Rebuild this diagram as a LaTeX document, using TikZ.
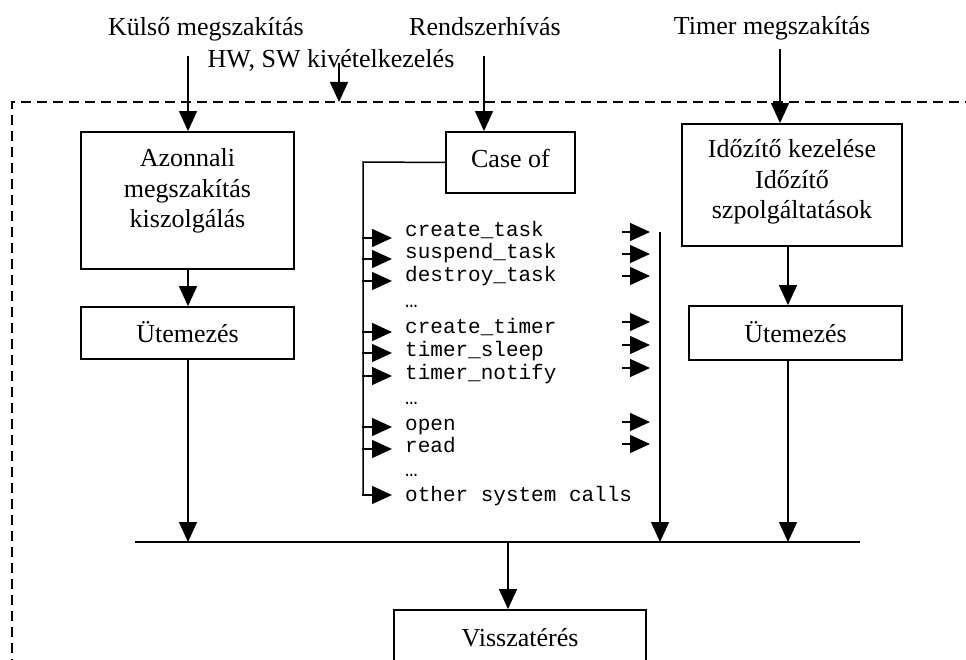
\documentclass[tikz,border=0pt]{standalone}
\usepackage{fontspec}
\setmainfont{Liberation Serif}
\setmonofont{Liberation Mono}
\usetikzlibrary{arrows.meta}

\begin{document}
\begin{tikzpicture}[x=1pt, y=-1pt,
  every node/.style={font=\fontsize{26}{30.5}\selectfont, inner sep=0pt},
  box/.style={draw, line width=1.8pt, inner sep=0pt},
  lbl/.style={anchor=base},
  item/.style={anchor=base west, font=\ttfamily\fontsize{21}{24}\selectfont},
  conn/.style={line width=1.5pt},
  arr/.style={conn, -{Triangle[length=20pt, width=18pt]}},
  frame/.style={line width=2pt, dash pattern=on 10pt off 6pt}]

\clip (0,0) rectangle (966,660);

% incoming events
\node[lbl] (kulso)  at (206,36) {Külső megszakítás};
\node[lbl] (hwsw)   at (331,68) {HW, SW kivételkezelés};
\node[lbl] (rendsz) at (485,36) {Rendszerhívás};
\node[lbl] (timer)  at (772,35) {Timer megszakítás};

% kernel boundary
\coordinate (frTL) at (12,102);
\coordinate (frTR) at (975,102);
\coordinate (frBL) at (12,675);
\draw[frame] (frTR) -- (frTL) -- (frBL);

% left column: interrupt handling (multi-line labels sit on their last baseline)
\node[box, minimum width=213pt, minimum height=137pt] (az) at (187.5,200.5) {};
\node[lbl, align=center] (aztext) at (187.5,228) {Azonnali\\megszakítás\\kiszolgálás};
\node[box, minimum width=213pt, minimum height=52pt] (ut1) at (187.5,333) {};
\node[lbl] (ut1text) at (187.5,342) {Ütemezés};

% middle column: system call dispatch
\node[box, minimum width=129pt, minimum height=61pt] (case) at (510.5,162.5) {};
\node[lbl] (casetext) at (510.5,168) {Case of};

% right column: timer handling
\node[box, minimum width=220pt, minimum height=122pt] (ido) at (792,185) {};
\node[lbl, align=center] (idotext) at (792,219) {Időzítő kezelése\\Időzítő\\szpolgáltatások};
\node[box, minimum width=213pt, minimum height=54pt] (ut2) at (795.5,333) {};
\node[lbl] (ut2text) at (795.5,342) {Ütemezés};

% return
\node[box, minimum width=252pt, minimum height=70pt] (vissza) at (520,645) {};
\node[lbl] (visszatext) at (520,646) {Visszatérés};

% system call list
\node[item] (i1)  at (405,237) {create\_task};
\node[item] (i2)  at (405,259) {suspend\_task};
\node[item] (i3)  at (405,282) {destroy\_task};
\node[item] (e1)  at (405,307) {…};
\node[item] (i4)  at (405,333) {create\_timer};
\node[item] (i5)  at (405,356) {timer\_sleep};
\node[item] (i6)  at (405,379) {timer\_notify};
\node[item] (e2)  at (405,404) {…};
\node[item] (i7)  at (405,430) {open};
\node[item] (i8)  at (405,452) {read};
\node[item] (e3)  at (405,476) {…};
\node[item] (i9)  at (405,501) {other system calls};

% bus collecting all paths
\coordinate (busL) at (135,542);
\coordinate (busR) at (860,542);
\draw[line width=2pt] (busL) -- (busR);

% incoming arrows
\coordinate (kulsoIn) at (188,56);
\coordinate (hwIn) at (339,63);
\coordinate (rendIn) at (484,56);
\coordinate (timerIn) at (780,49);
\draw[arr] (kulsoIn) -- (kulsoIn |- az.north);
\draw[arr] (hwIn) -- (hwIn |- frTL);
\draw[arr] (rendIn) -- (rendIn |- case.north);
\draw[arr] (timerIn) -- (timerIn |- ido.north);

% column flows
\coordinate (lcol) at (188,0);
\coordinate (rcol) at (788,0);
\draw[arr] (lcol |- az.south) -- (lcol |- ut1.north);
\draw[arr] (lcol |- ut1.south) -- (lcol |- busL);
\draw[arr] (rcol |- ido.south) -- (rcol |- ut2.north);
\draw[arr] (rcol |- ut2.south) -- (rcol |- busL);

% dispatch tree
\coordinate (trunk) at (363,162);
\coordinate (t9) at (363,495);
\draw[conn] (case.west) -- (trunk) -- (t9);
\foreach \n/\y in {1/238, 2/259, 3/281, 4/332, 5/353, 6/376, 7/427, 8/449, 9/495} {
  \coordinate (ls\n) at (362.25,\y);
  \coordinate (lt\n) at (392,\y);
  \draw[arr] (ls\n) -- (lt\n);
}
\foreach \n/\y in {1/232, 2/254, 3/276, 4/322, 5/345, 6/368, 7/422, 8/444} {
  \coordinate (rs\n) at (622,\y);
  \coordinate (rt\n) at (650,\y);
  \draw[arr] (rs\n) -- (rt\n);
}
\coordinate (collect) at (660,232);
\draw[arr] (collect) -- (collect |- busL);

% back to the caller
\coordinate (ret) at (508,542);
\draw[arr] (ret) -- (ret |- vissza.north);
\end{tikzpicture}
\end{document}
